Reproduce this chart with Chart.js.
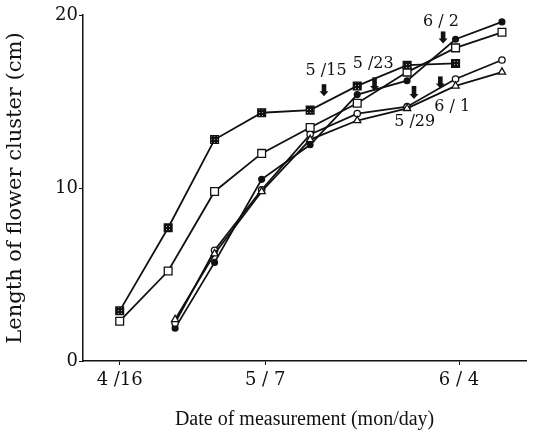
<!DOCTYPE html>
<html>
<head>
<meta charset="utf-8">
<script src="https://cdn.jsdelivr.net/npm/chart.js"></script>
<style>
  html, body { margin: 0; padding: 0; background: #fff; }
</style>
</head>
<body>
<canvas id="flowerChart" width="533" height="440"></canvas>
<script>
// x values are days counted from 4/16
let tickDays = [0, 21, 49];
let tickLabels = ['4 /16', '5 / 7', '6 / 4'];

let earlyDays = [0, 7, 13.7, 20.5, 27.5, 34.3, 41.5, 48.5];
let squareDays = [0, 7, 13.7, 20.5, 27.5, 34.3, 41.5, 48.5, 55.2];
let lateDays = [8, 13.7, 20.5, 27.5, 34.3, 41.5, 48.5, 55.2];

let hatchedSquare = [2.9, 7.7, 12.8, 14.35, 14.5, 15.9, 17.1, 17.2];
let openSquare = [2.3, 5.2, 9.8, 12.0, 13.5, 14.9, 16.7, 18.1, 19.0];
let filledCircle = [1.9, 5.7, 10.5, 12.5, 15.4, 16.2, 18.6, 19.6];
let openCircle = [2.2, 6.4, 9.9, 13.1, 14.3, 14.7, 16.3, 17.4];
let openTriangle = [2.4, 6.2, 9.8, 12.8, 13.9, 14.6, 15.9, 16.7];

// arrows with their dates
let arrowLabels = ['5 /15', '5 /23', '5 /29', '6 / 1', '6 / 2'];
let arrowDays = [29.5, 36.8, 42.5, 46.3, 46.7];
let arrowTop = [16.0, 16.4, 15.9, 16.45, 19.05];
let arrowTip = [15.3, 15.6, 15.15, 15.75, 18.35];
let labelDays = [29.8, 36.6, 42.6, 48.0, 46.4];
let labelValues = [16.8, 17.2, 13.8, 14.7, 19.6];

function toPoints(days, values){
    return days.map((d, i) => ({x: d, y: values[i]}));
}

let canvas = document.getElementById('flowerChart');
let ctx = canvas.getContext('2d');

function hatchPattern(){
    let c = document.createElement('canvas');
    c.width = 3;
    c.height = 3;
    let g = c.getContext('2d');
    g.fillStyle = '#111';
    g.fillRect(0, 0, 3, 3);
    g.fillStyle = '#aaa';
    g.fillRect(1, 1, 1, 1);
    return ctx.createPattern(c, 'repeat');
}

function series(days, values, style, fill, radius){
    return {
        data: toPoints(days, values),
        borderColor: '#111',
        borderWidth: 1.8,
        tension: 0,
        pointStyle: style,
        pointRadius: radius,
        pointBackgroundColor: fill,
        pointBorderColor: '#111',
        pointBorderWidth: 1.3
    };
}

let arrowPlugin = {
    id: 'arrows',
    afterDatasetsDraw(chart){
        let c = chart.ctx;
        let xs = chart.scales.x;
        let ys = chart.scales.y;
        c.save();
        c.fillStyle = '#111';
        for(let i = 0; i < arrowDays.length; i++){
            let x = xs.getPixelForValue(arrowDays[i]);
            let y1 = ys.getPixelForValue(arrowTop[i]);
            let y2 = ys.getPixelForValue(arrowTip[i]);
            c.fillRect(x - 2.3, y1, 4.6, y2 - y1 - 4);
            c.beginPath();
            c.moveTo(x - 4.5, y2 - 5);
            c.lineTo(x + 4.5, y2 - 5);
            c.lineTo(x, y2);
            c.closePath();
            c.fill();
        }
        c.font = '16px "DejaVu Serif"';
        c.textAlign = 'center';
        c.textBaseline = 'middle';
        for(let i = 0; i < arrowLabels.length; i++){
            c.fillText(arrowLabels[i], xs.getPixelForValue(labelDays[i]), ys.getPixelForValue(labelValues[i]));
        }
        c.restore();
    }
};

new Chart(canvas, {
    type: 'line',
    data: {
        datasets: [
            series(earlyDays, hatchedSquare, 'rect', hatchPattern(), 5.5),
            series(squareDays, openSquare, 'rect', '#fff', 5.5),
            series(lateDays, openTriangle, 'triangle', '#fff', 4.2),
            series(lateDays, openCircle, 'circle', '#fff', 3.2),
            series(lateDays, filledCircle, 'circle', '#111', 2.9)
        ]
    },
    options: {
        responsive: false,
        animation: false,
        layout: { padding: { top: 15, right: 0, left: 0, bottom: 0 } },
        plugins: {
            legend: { display: false },
            tooltip: { enabled: false }
        },
        scales: {
            x: {
                type: 'linear',
                min: -5.3,
                max: 58.7,
                afterBuildTicks: function(scale){
                    scale.ticks = tickDays.map(v => ({value: v}));
                },
                afterFit: function(scale){
                    scale.height = 79;
                },
                ticks: {
                    callback: (v, i) => tickLabels[i],
                    color: '#111',
                    font: { family: 'DejaVu Serif', size: 18 },
                    padding: 5,
                    maxRotation: 0,
                    autoSkip: false
                },
                grid: { drawOnChartArea: false, tickLength: 4, color: '#111' },
                border: { color: '#111', width: 1.5 },
                title: {
                    display: true,
                    text: 'Date of measurement (mon/day)',
                    color: '#111',
                    font: { family: 'Liberation Serif', size: 20 },
                    padding: { top: 0, bottom: 8 }
                }
            },
            y: {
                min: 0,
                max: 20,
                afterFit: function(scale){
                    scale.width = 83;
                },
                ticks: {
                    stepSize: 10,
                    color: '#111',
                    font: { family: 'DejaVu Serif', size: 18 },
                    padding: 1
                },
                grid: { drawOnChartArea: false, tickLength: 4, color: '#111' },
                border: { color: '#111', width: 1.5 },
                title: {
                    display: true,
                    text: 'Length of flower cluster (cm)',
                    color: '#111',
                    font: { family: 'DejaVu Serif', size: 21 },
                    padding: { top: 3, bottom: 0 }
                }
            }
        }
    },
    plugins: [arrowPlugin]
});
</script>
</body>
</html>
